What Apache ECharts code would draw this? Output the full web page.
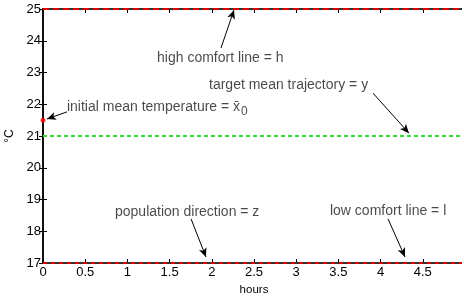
<!DOCTYPE html>
<html><head><meta charset="utf-8">
<script src="https://cdn.jsdelivr.net/npm/echarts@6/dist/echarts.min.js"></script>
<style>html,body{margin:0;padding:0;background:#fff}#c{width:462px;height:293px}</style>
</head><body><div id="c"></div>
<script>
// ---- data ----
const hours = [0, 5];
const highComfort = [25, 25];
const lowComfort = [17, 17];
const targetMean = [21, 21];
const initialMean = [[0, 21.5]];
const xTicks = [0, 0.5, 1, 1.5, 2, 2.5, 3, 3.5, 4, 4.5, 5];
const yTicks = [17, 18, 19, 20, 21, 22, 23, 24, 25];
// annotation texts, their anchors (data units) and arrow tail/head (data units)
const noteTexts = [
  '{a|initial mean temperature = x\u0304}{s|0}',
  '{a|high comfort line = h}',
  '{a|target mean trajectory = y}',
  '{a|population direction = z}',
  '{a|low comfort line = l}'
];
const noteAnchors = [[0.284, 21.91], [1.351, 23.46], [1.967, 22.61], [0.853, 18.61], [3.40, 18.64]];
const arrowTails = [[0.284, 21.76], [2.109, 23.77], [3.91, 22.35], [1.754, 18.39], [4.088, 18.39]];
const arrowHeads = [[0.047, 21.535], [2.263, 24.97], [4.336, 21.09], [1.931, 17.19], [4.289, 17.19]];

const font = 'Liberation Sans, Arial, Helvetica, sans-serif';
const pair = (xs, ys) => xs.map((x, i) => [x, ys[i]]);

const chart = echarts.init(document.getElementById('c'), null, {renderer: 'canvas'});
const axisCommon = {
  axisLine: {show: true, lineStyle: {color: '#000', width: 1.5}},
  axisTick: {show: true, inside: true, length: 4, lineStyle: {color: '#000', width: 1}},
  splitLine: {show: false}
};
chart.setOption({
  animation: false,
  grid: {left: 43, top: 9, right: -3, bottom: 30, containLabel: false, outerBoundsMode: 'none'},
  xAxis: [
    Object.assign({}, axisCommon, {
      type: 'value', min: xTicks[0], max: xTicks[xTicks.length - 1], interval: 0.5,
      name: 'hours', nameLocation: 'middle', nameGap: 19,
      nameTextStyle: {fontFamily: font, fontSize: 11.5, color: '#000'},
      axisLabel: {fontFamily: font, fontSize: 13, color: '#000', margin: 3}
    }),
    Object.assign({}, axisCommon, {
      type: 'value', position: 'top', min: xTicks[0], max: xTicks[xTicks.length - 1], interval: 0.5,
      axisLabel: {show: false}
    })
  ],
  yAxis: [
    Object.assign({}, axisCommon, {
      type: 'value', min: yTicks[0], max: yTicks[yTicks.length - 1], interval: 1,
      name: '\u00B0C', nameLocation: 'middle', nameGap: 22, nameRotate: 90,
      nameTextStyle: {fontFamily: font, fontSize: 12, color: '#000'},
      axisLabel: {fontFamily: font, fontSize: 13, color: '#000', margin: 2}
    }),
    Object.assign({}, axisCommon, {
      type: 'value', position: 'right', min: yTicks[0], max: yTicks[yTicks.length - 1], interval: 1,
      axisLabel: {show: false}
    })
  ],
  series: [
    {type: 'line', data: pair(hours, highComfort), symbol: 'none', clip: false, z: 3,
     lineStyle: {color: '#333', width: 2}},
    {type: 'line', data: pair(hours, highComfort), symbol: 'none', clip: false, z: 4,
     lineStyle: {color: '#e00000', width: 2, type: [6, 4]}},
    {type: 'line', data: pair(hours, lowComfort), symbol: 'none', clip: false, z: 3,
     lineStyle: {color: '#333', width: 2}},
    {type: 'line', data: pair(hours, lowComfort), symbol: 'none', clip: false, z: 4,
     lineStyle: {color: '#e00000', width: 2, type: [4, 4]}},
    {type: 'line', data: pair(hours, targetMean), symbol: 'none', clip: false, z: 3,
     lineStyle: {color: '#33e033', width: 2, type: [4, 3]}},
    {type: 'scatter', data: initialMean, symbol: 'circle', symbolSize: 5, clip: false, z: 5,
     itemStyle: {color: '#ff0000'}},
    {type: 'scatter', data: noteAnchors, symbolSize: 0, clip: false, z: 6, silent: true,
     label: {
       show: true, position: 'right', distance: 0,
       formatter: p => noteTexts[p.dataIndex],
       rich: {
         a: {fontFamily: font, fontSize: 14, color: '#1a1a1a'},
         s: {fontFamily: font, fontSize: 12, color: '#1a1a1a', padding: [10, 0, 0, 1], verticalAlign: 'bottom'}
       }
     },
     markLine: {
       silent: true, symbol: ['none', 'arrow'], symbolSize: [6, 9],
       label: {show: false},
       lineStyle: {color: '#000', width: 1, type: 'solid'},
       data: arrowTails.map((t, i) => [{coord: t}, {coord: arrowHeads[i]}])
     }
    }
  ]
});
</script></body></html>
